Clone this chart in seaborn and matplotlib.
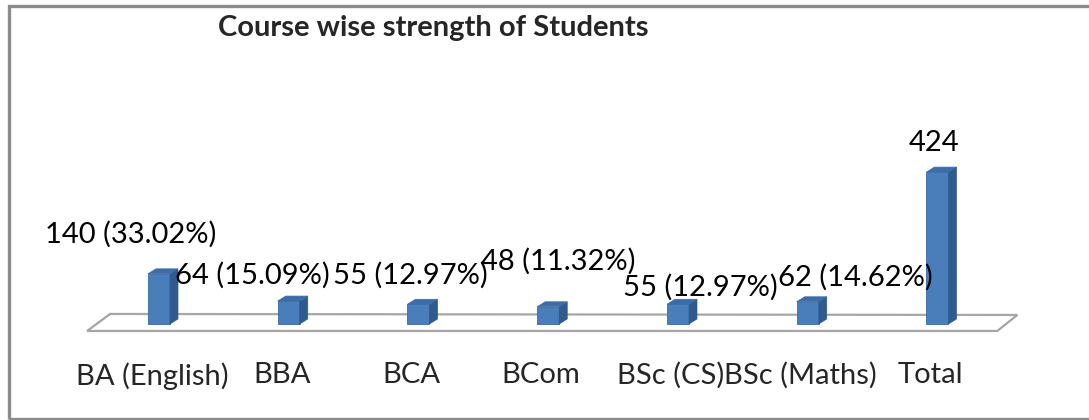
import numpy as np
import pandas as pd
import seaborn as sns
import matplotlib.pyplot as plt
import matplotlib.transforms as mtransforms
from matplotlib.patches import Polygon, Rectangle

# Data
courses = ["BA (English)", "BBA", "BCA", "BCom", "BSc (CS)", "BSc (Maths)", "Total"]
students = [140, 64, 55, 48, 55, 62, 424]
percent = ["33.02%", "15.09%", "12.97%", "11.32%", "12.97%", "14.62%", None]

# label offsets (pixels) from the bar top, Excel put them in odd places
label_dx = [-28, -36, -8, 10, 22, 48, -3]
label_dy = [40, 26, 29, 45, 17, 24, 29]

col_front = "#4a7ebb"
col_side = "#2f5a8e"
col_top = "#3d6da8"
font = ["Lato", "DejaVu Sans"]

df = pd.DataFrame({"course": courses, "students": students})

sns.set_theme(style="white")
plt.rcParams["font.family"] = font
fig = plt.figure(figsize=(10.89, 4.2), dpi=100)
ax = fig.add_axes([0.0864, 0.1905, 0.834, 0.6667])

bar_w = 0.17
sns.barplot(data=df, x="course", y="students", color=col_front, width=bar_w,
            saturation=1, edgecolor="#3a6aa0", linewidth=0.6, ax=ax, zorder=3)

ax.set_xlim(-0.5, len(courses) - 0.5)
ax.set_ylim(-44.7, 737)
ax.set(xlabel="", ylabel="", yticks=[])
for s in ax.spines.values():
    s.set_visible(False)
ax.tick_params(axis="x", length=0, pad=16, labelsize=21)
# category labels sit a little left of the bars in the original
shift = mtransforms.ScaledTranslation(-7 / 100, 0, fig.dpi_scale_trans)
for lab in ax.get_xticklabels():
    lab.set_transform(lab.get_transform() + shift)

# pixel -> data unit factors
ax_px_w = 0.834 * 1089
ax_px_h = 0.6667 * 420
ux = (len(courses)) / ax_px_w
uy = (737 + 44.7) / ax_px_h
dx, dy = 8 * ux, 5 * uy

# floor of the 3D chart
n = len(courses)
floor = Polygon([(-0.5 - 7 * ux, -19.5), (-0.5 + 16 * ux, -19.5 + 17 * uy),
                 (n - 0.5 + 15 * ux, -19.5 + 16 * uy), (n - 0.5 - 5 * ux, -19.5)],
                closed=True, facecolor="white", edgecolor="#a6a6a6", lw=1.6,
                zorder=1, clip_on=False)
ax.add_patch(floor)

# fake depth on the bars
for p in ax.patches:
    if not isinstance(p, Rectangle) or p.get_width() > 0.5:
        continue
    x0, x1 = p.get_x(), p.get_x() + p.get_width()
    h = p.get_height()
    side = Polygon([(x1, 0), (x1 + dx, dy), (x1 + dx, h + dy), (x1, h)],
                   facecolor=col_side, edgecolor=col_side, lw=0.5, zorder=3)
    top = Polygon([(x0, h), (x0 + dx, h + dy), (x1 + dx, h + dy), (x1, h)],
                  facecolor=col_top, edgecolor=col_top, lw=0.5, zorder=3)
    ax.add_patch(side)
    ax.add_patch(top)

# data labels
for i, (v, pc) in enumerate(zip(students, percent)):
    txt = f"{v} ({pc})" if pc else f"{v}"
    ax.annotate(txt, (i, v), xytext=(label_dx[i], label_dy[i]), textcoords="offset pixels",
                ha="center", va="center", fontsize=21, color="black", zorder=5)

fig.text(433 / 1089, 1 - 28 / 420, "Course wise strength of Students",
         ha="center", va="center", fontsize=21, fontweight="bold")

# outer grey frame
fig.patches.append(Rectangle((8.5 / 1089, 1.5 / 420), 1.1, 412.5 / 420,
                             transform=fig.transFigure, fill=False,
                             edgecolor="#8c8c8c", lw=2.4))

fig.savefig("out.png", dpi=100)
